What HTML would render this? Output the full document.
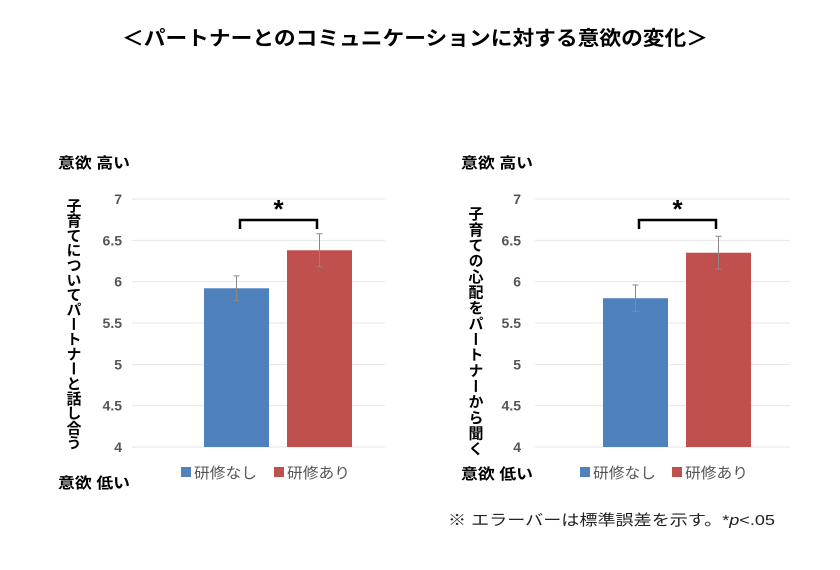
<!DOCTYPE html>
<html><head><meta charset="utf-8">
<style>
body{margin:0;width:840px;height:565px;background:#fff;overflow:hidden;font-family:"Liberation Sans","Noto Sans CJK JP",sans-serif;}
svg text{font-family:"Liberation Sans","Noto Sans CJK JP",sans-serif;}
</style></head>
<body>
<svg id="c" width="840" height="565">
<text x="122" y="45" font-size="20" font-weight="bold" fill="#000" textLength="586" lengthAdjust="spacingAndGlyphs">＜パートナーとのコミュニケーションに対する意欲の変化＞</text>
<text x="448" y="525" font-size="15" fill="#222" textLength="327" lengthAdjust="spacingAndGlyphs">※ エラーバーは標準誤差を示す。*<tspan font-style="italic">p</tspan>&lt;.05</text>
</svg>
<script>
const categories=['研修なし','研修あり'];
const chart1Values=[5.92,6.38];
const chart1Errors=[0.15,0.2];
const chart2Values=[5.80,6.35];
const chart2Errors=[0.16,0.2];
const yTicks=[4,4.5,5,5.5,6,6.5,7];
const yTickLabels=['4','4.5','5','5.5','6','6.5','7'];
const colors=['#4f81bd','#c0504d'];
const NS='http://www.w3.org/2000/svg';
const svg=document.getElementById('c');
function mk(tag,attrs,parent){const e=document.createElementNS(NS,tag);for(const k in attrs)e.setAttribute(k,attrs[k]);(parent||svg).appendChild(e);return e;}
function y(v){return 447-(v-4)/3*248;}
function drawChart(o){
  const g=mk('g',{});
  
  
  yTicks.forEach((t,i)=>{
    const l=mk('line',{x1:o.gx0,x2:o.gx1,y1:y(t),y2:y(t),stroke:'#e6e6e6','stroke-width':1},g);
    
    
    const tx=mk('text',{x:o.tickX,y:y(t)+5,'text-anchor':'end','font-size':14,'font-weight':'bold',fill:'#555'},g);
    tx.textContent=yTickLabels[i];
    
    
  });
  o.values.forEach((v,i)=>{
    const x=o.barX[i];
    const r=mk('rect',{x:x,y:y(v),width:65,height:y(4)-y(v),fill:colors[i]},g);
    
    
    const cx=x+32.5,e=o.errors[i];
    const eb=mk('path',{d:`M${cx},${y(v+e)}V${y(v-e)}M${cx-3},${y(v+e)}H${cx+3}M${cx-3},${y(v-e)}H${cx+3}`,stroke:'#888','stroke-width':1,fill:'none'},g);
    
    
  });
  const b0=o.barX[0]+36,b1=o.barX[1]+30;
  const br=mk('path',{d:`M${b0},229V220H${b1}V229`,stroke:'#000','stroke-width':2.5,fill:'none'},g);
  
  
  const st=mk('text',{x:(b0+b1)/2,y:218,'text-anchor':'middle','font-size':26,'font-weight':'bold'},g);
  st.textContent='*';
  
  
  const hi=mk('text',{x:o.labX,y:168,'font-size':15,'font-weight':'bold',textLength:72,lengthAdjust:'spacingAndGlyphs'},g);
  hi.textContent='意欲 高い';
  
  
  const lo=mk('text',{x:o.labX,y:o.lowY,'font-size':15,'font-weight':'bold',textLength:72,lengthAdjust:'spacingAndGlyphs'},g);
  lo.textContent='意欲 低い';
  
  
  const yt=mk('text',{x:o.titleX,y:o.titleY,'font-size':15,'font-weight':'bold','writing-mode':'tb','glyph-orientation-vertical':0,textLength:o.titleLen,lengthAdjust:'spacing'},g);
  yt.textContent=o.title;
  
  
  categories.forEach((c,i)=>{
    const sq=mk('rect',{x:o.legX[i],y:467,width:10,height:10,fill:colors[i]},g);
    
    
    const lt=mk('text',{x:o.legX[i]+13,y:478,'font-size':15,fill:'#555',textLength:63,lengthAdjust:'spacingAndGlyphs'},g);
    lt.textContent=c;
    
    
  });
}
drawChart({name:'chart-discuss',values:chart1Values,errors:chart1Errors,gx0:132,gx1:385,tickX:122,barX:[204,287],labX:58,lowY:488,titleX:73,titleY:198,titleLen:252,title:'子育てについてパートナーと話し合う',legX:[181,274]});
drawChart({name:'chart-listen',values:chart2Values,errors:chart2Errors,gx0:535,gx1:790,tickX:521,barX:[603,686],labX:461,lowY:479,titleX:475,titleY:206,titleLen:250,title:'子育ての心配をパートナーから聞く',legX:[580,672]});
</script>
</body></html>
